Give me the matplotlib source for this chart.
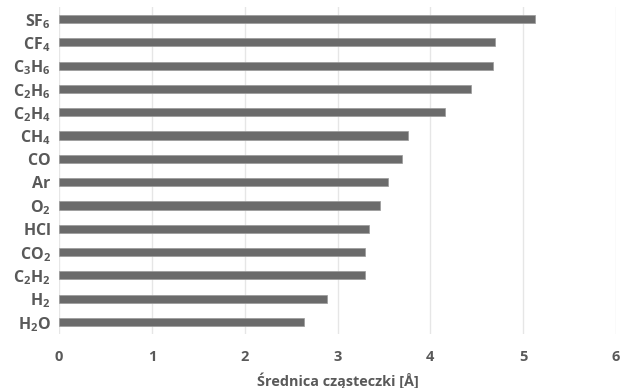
import matplotlib
matplotlib.use("Agg")
import matplotlib.pyplot as plt

molecules = ["SF_6", "CF_4", "C_3H_6", "C_2H_6", "C_2H_4", "CH_4", "CO", "Ar",
             "O_2", "HCl", "CO_2", "C_2H_2", "H_2", "H_2O"]
diameters = [5.13, 4.70, 4.675, 4.44, 4.16, 3.76, 3.69, 3.54,
             3.46, 3.34, 3.30, 3.30, 2.89, 2.64]
xticks = [0, 1, 2, 3, 4, 5, 6]
xlabel = "Średnica cząsteczki [Å]"

plt.rcParams['font.family'] = ['Open Sans', 'DejaVu Sans']
plt.rcParams['mathtext.fontset'] = 'custom'
plt.rcParams['mathtext.rm'] = 'Open Sans:bold'
plt.rcParams['mathtext.it'] = 'Open Sans:bold'
plt.rcParams['mathtext.bf'] = 'Open Sans:bold'
plt.rcParams['mathtext.default'] = 'rm'

txt = '#595959'
fig = plt.figure(figsize=(6.22, 3.88), dpi=100)
ax = fig.add_axes([59/622, 1-333.7/388, (616-59)/622, (333.7-7.3)/388])

pos = list(range(len(molecules)))
ax.barh(pos, diameters, height=0.35, color='#6b6b6b', edgecolor='#9a9a9a', linewidth=0.5, zorder=3)
ax.set_ylim(len(molecules)-0.5, -0.5)
ax.set_xlim(0, 6)
ax.set_xticks(xticks)
ax.set_xticklabels([str(t) for t in xticks], fontsize=10.5, fontweight='bold', color=txt)
ax.set_yticks(pos)
ax.set_yticklabels(["$\\mathrm{" + m + "}$" for m in molecules], fontsize=11.5, color=txt)
ax.xaxis.grid(True, color='#e6e6e6', linewidth=1, zorder=0)
for s in ax.spines.values():
    s.set_visible(False)
ax.tick_params(axis='both', length=0)
ax.tick_params(axis='x', pad=12)
ax.tick_params(axis='y', pad=6)
ax.set_xlabel(xlabel, fontsize=10.4, fontweight='bold', color=txt, labelpad=6)
fig.savefig("out.png", dpi=100, facecolor='white')
